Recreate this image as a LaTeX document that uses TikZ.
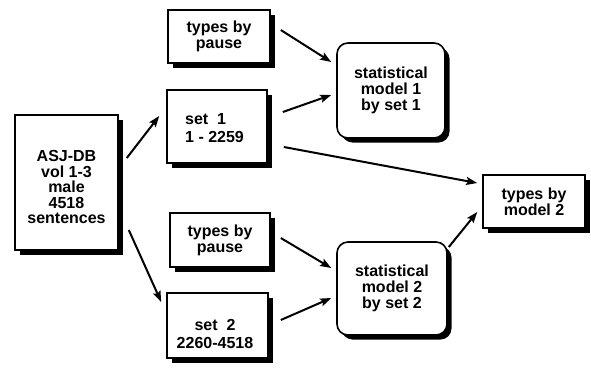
\documentclass[tikz,border=0pt]{standalone}
\usepackage{fontspec}
\setmainfont{Liberation Sans}
\usetikzlibrary{shadows,arrows.meta,calc}
\begin{document}
\begin{tikzpicture}[x=1pt,y=-1pt,
  box/.style={draw=black,line width=1.6pt,fill=white,inner sep=0pt,
    font=\fontsize{16}{16}\selectfont\bfseries,align=center,
    drop shadow={shadow xshift=4.5pt,shadow yshift=-4.5pt,fill=black,opacity=1}},
  rbox/.style={box,rounded corners=11pt},
  label text/.style={font=\fontsize{16}{18.5}\selectfont\bfseries,inner sep=0pt},
  link/.style={line width=2pt,-{Stealth[length=11pt,width=8pt,inset=2pt]}}]
\useasboundingbox (0,0) rectangle (591,367);

% source corpus
\node[box,minimum width=103pt,minimum height=135pt] (asj) at (66.5,182.5) {};
\node[label text,align=center,font=\fontsize{16}{15.5}\selectfont\bfseries]
  (asjtxt) at (66.5,187) {ASJ-DB\\vol 1-3\\male\\4518\\sentences};

% upper branch
\node[box,minimum width=102pt,minimum height=53pt] (tp1) at (219,36.5) {types by\\pause};
\node[box,minimum width=100pt,minimum height=73pt] (set1) at (217,126.5) {};
\node[label text,align=left,anchor=west] (set1txt) at (185,128) {set\ \ 1\\1 - 2259};
\node[rbox,minimum width=108pt,minimum height=95pt] (stat1) at (391,90.5)
  {statistical\\model 1\\by set 1};

% lower branch
\node[box,minimum width=100pt,minimum height=54pt] (tp2) at (220,240) {types by\\pause};
\node[box,minimum width=101pt,minimum height=65pt] (set2) at (217.5,325.5) {};
\node[label text,align=center] (set2txt) at (215,334) {set\ \ 2\\2260-4518};
\node[rbox,minimum width=110pt,minimum height=93pt] (stat2) at (392,288.5)
  {statistical\\model 2\\by set 2};

% result
\node[box,minimum width=102pt,minimum height=53pt] (tm2) at (534,201.5) {types by\\model 2};

% connectors
\draw[link] ($(asj.east)+(8,-24.5)$) -- ($(set1.west)+(-7,-10.5)$);
\draw[link] ($(asj.east)+(10,47.5)$) -- ($(set2.west)+(-5,-23.5)$);
\draw[link] ($(tp1.east)+(10,-6.5)$) -- ($(stat1.west)+(-5,-28.5)$);
\draw[link] ($(set1.east)+(15,-14.5)$) -- ($(stat1.west)+(-5,4.5)$);
\draw[link] ($(set1.east)+(16,20.5)$) -- ($(tm2.west)+(-5,-18.5)$);
\draw[link] ($(tp2.east)+(10,-2)$) -- ($(stat2.west)+(-5,-20.5)$);
\draw[link] ($(set2.east)+(12,-5.5)$) -- ($(stat2.west)+(-5,9.5)$);
\draw[link] ($(stat2.east)+(1,-41.5)$) -- ($(tm2.west)+(-5,10.5)$);
\end{tikzpicture}
\end{document}
